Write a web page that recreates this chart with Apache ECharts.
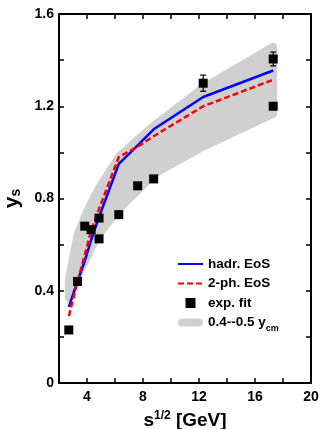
<!DOCTYPE html>
<html>
<head>
<meta charset="utf-8">
<script src="https://cdn.jsdelivr.net/npm/echarts@6/dist/echarts.min.js"></script>
<style>
  html, body {margin: 0; padding: 0; background: #fff;}
  #chart {width: 321px; height: 429px;}
</style>
</head>
<body>
<div id="chart"></div>
<script>
// sqrt(s) of the energies, GeV
const energies = [2.7, 3.32, 3.84, 4.29, 4.86, 6.27, 7.62, 8.76, 12.3, 17.3];
const hadrEoS = [0.33, 0.44, 0.53, 0.62, 0.72, 0.95, 1.03, 1.10, 1.24, 1.355];
const twoPhEoS = [0.29, 0.44, 0.555, 0.66, 0.755, 0.98, 1.025, 1.07, 1.20, 1.315];
const bandLow = [0.37, 0.465, 0.525, 0.585, 0.645, 0.755, 0.835, 0.905, 1.025, 1.167];
const bandHigh = [0.445, 0.64, 0.72, 0.78, 0.845, 0.98, 1.055, 1.115, 1.28, 1.458];

const expX = [2.7, 3.32, 3.84, 4.29, 4.86, 4.86, 6.27, 7.62, 8.76, 12.3, 17.3, 17.3];
const expY = [0.23, 0.44, 0.68, 0.665, 0.715, 0.625, 0.73, 0.855, 0.885, 1.30, 1.405, 1.20];
const errX = [12.3, 17.3];
const errLow = [1.265, 1.375];
const errHigh = [1.335, 1.435];

const font = 'Liberation Sans, Arial, sans-serif';
const black = '#000';

const chart = echarts.init(document.getElementById('chart'));

const baseX = {
    type: 'value', min: 2, max: 20, interval: 2,
    axisLine: {onZero: false, lineStyle: {color: black, width: 2}},
    axisTick: {inside: true, length: 5, lineStyle: {color: black, width: 1.5}},
    splitLine: {show: false}
};
const baseY = {
    type: 'value', min: 0, max: 1.6, interval: 0.2,
    axisLine: {onZero: false, lineStyle: {color: black, width: 2}},
    axisTick: {inside: true, length: 5, lineStyle: {color: black, width: 1.5}},
    splitLine: {show: false}
};
const noSymbol = {color: 'rgba(0,0,0,0)', borderWidth: 0, opacity: 0};

chart.setOption({
    animation: false,
    grid: {left: 59, right: 10, top: 14, bottom: 46, containLabel: false, outerBoundsMode: 'none'},
    xAxis: [
        Object.assign({}, baseX, {
            position: 'bottom',
            axisLabel: {
                color: black, fontFamily: font, fontWeight: 'bold', fontSize: 14, margin: 7,
                formatter: v => (v % 4 === 0 ? String(v) : '')
            },
            name: '{b|s}{sup|1/2}{b| [GeV]}',
            nameLocation: 'middle',
            nameGap: 27,
            nameTextStyle: {
                rich: {
                    b: {fontFamily: font, fontWeight: 'bold', fontSize: 19, color: black, lineHeight: 22},
                    sup: {fontFamily: font, fontWeight: 'bold', fontSize: 12, color: black, verticalAlign: 'top', lineHeight: 22, padding: [0, 0, 6, 0]}
                }
            }
        }),
        Object.assign({}, baseX, {position: 'top', axisLabel: {show: false}})
    ],
    yAxis: [
        Object.assign({}, baseY, {
            position: 'left',
            axisLabel: {
                color: black, fontFamily: font, fontWeight: 'bold', fontSize: 14, margin: 5,
                formatter: v => {
                    const k = Math.round(v * 10);
                    if (k % 4 !== 0) return '';
                    return k === 0 ? '0' : v.toFixed(1);
                }
            },
            name: '{b|y}{sub|s}',
            nameLocation: 'middle',
            nameGap: 34,
            nameRotate: 90,
            nameTextStyle: {
                rich: {
                    b: {fontFamily: font, fontWeight: 'bold', fontSize: 21, color: black, lineHeight: 22},
                    sub: {fontFamily: font, fontWeight: 'bold', fontSize: 14, color: black, verticalAlign: 'bottom', lineHeight: 22}
                }
            }
        }),
        Object.assign({}, baseY, {position: 'right', axisLabel: {show: false}})
    ],
    legend: {
        orient: 'vertical',
        left: 177,
        top: 257,
        padding: 0,
        itemWidth: 25,
        itemHeight: 10,
        itemGap: 5.5,
        textStyle: {
            color: black, fontFamily: font, fontWeight: 'bold', fontSize: 13.5,
            rich: {
                sub: {fontFamily: font, fontWeight: 'bold', fontSize: 9, color: black, verticalAlign: 'bottom', padding: [0, 0, -4, 0]}
            }
        },
        formatter: name => (name === 'band' ? '0.4--0.5 y{sub|cm}' : name),
        data: [
            {name: 'hadr. EoS', itemStyle: noSymbol},
            {name: '2-ph. EoS', itemStyle: noSymbol},
            {name: 'exp. fit', icon: 'path://M0,0h8v8h-8z'},
            {name: 'band', icon: 'path://M5,0h22a5,5 0 0 1 0,10h-22a5,5 0 0 1 0,-10z'}
        ]
    },
    series: [
        {
            name: 'band',
            type: 'custom',
            z: 1,
            itemStyle: {color: '#d0d0d0'},
            data: energies.map((x, i) => [x, bandLow[i], bandHigh[i]]),
            renderItem: (params, api) => {
                if (params.dataIndex !== 0) return;
                const pts = [];
                energies.forEach((x, i) => pts.push(api.coord([x, bandHigh[i]])));
                for (let i = energies.length - 1; i >= 0; i--) pts.push(api.coord([energies[i], bandLow[i]]));
                return {
                    type: 'polygon',
                    shape: {points: pts},
                    style: {fill: '#d0d0d0', stroke: '#d0d0d0', lineWidth: 8, lineJoin: 'round'}
                };
            }
        },
        {
            name: 'hadr. EoS',
            type: 'line',
            z: 3,
            symbol: 'none',
            data: energies.map((x, i) => [x, hadrEoS[i]]),
            lineStyle: {color: '#0000ff', width: 2.5},
            itemStyle: {color: '#0000ff'}
        },
        {
            name: '2-ph. EoS',
            type: 'line',
            z: 4,
            symbol: 'none',
            data: energies.map((x, i) => [x, twoPhEoS[i]]),
            lineStyle: {color: '#ff0000', width: 2.5, type: [6, 3]},
            itemStyle: {color: '#ff0000'}
        },
        {
            name: 'exp. fit',
            type: 'scatter',
            z: 5,
            symbol: 'rect',
            symbolSize: 9,
            data: expX.map((x, i) => [x, expY[i]]),
            itemStyle: {color: black, opacity: 1}
        },
        {
            name: 'errors',
            type: 'custom',
            z: 6,
            data: errX.map((x, i) => [x, errLow[i], errHigh[i]]),
            renderItem: (params, api) => {
                const lo = api.coord([api.value(0), api.value(1)]);
                const hi = api.coord([api.value(0), api.value(2)]);
                const s = {stroke: black, lineWidth: 1.2};
                return {
                    type: 'group',
                    children: [
                        {type: 'line', shape: {x1: lo[0], y1: lo[1], x2: hi[0], y2: hi[1]}, style: s},
                        {type: 'line', shape: {x1: lo[0] - 3, y1: lo[1], x2: lo[0] + 3, y2: lo[1]}, style: s},
                        {type: 'line', shape: {x1: hi[0] - 3, y1: hi[1], x2: hi[0] + 3, y2: hi[1]}, style: s}
                    ]
                };
            }
        }
    ]
});
</script>
</body>
</html>
